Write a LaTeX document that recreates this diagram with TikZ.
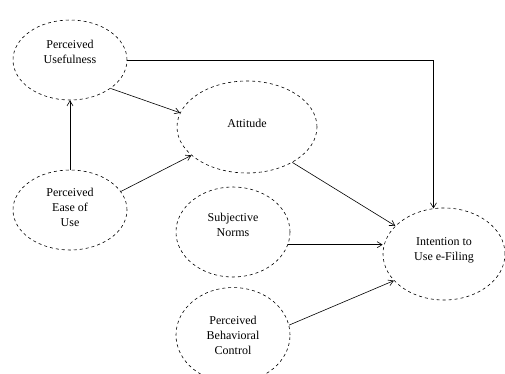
\documentclass[tikz,border=0pt]{standalone}
\usepackage{fontspec}
\setmainfont{Liberation Serif}
\usetikzlibrary{shapes.geometric,arrows.meta}
\begin{document}
\begin{tikzpicture}[x=1pt,y=-1pt,
  var/.style={ellipse,draw,dashed,line width=0.6pt,inner sep=0pt},
  lbl/.style={align=center,font=\fontsize{12}{15}\selectfont},
  arr/.style={-{Straight Barb[length=5pt,width=6pt]},line width=0.6pt}]
\useasboundingbox (0,0) rectangle (505,374);
\node[var,minimum width=114pt,minimum height=80pt] (pu) at (70,60) {};
\node[lbl] (pul) at (70,52) {Perceived\\Usefulness};
\node[var,minimum width=140pt,minimum height=92pt] (att) at (247,127) {};
\node[lbl] (attl) at (247,123) {Attitude};
\node[var,minimum width=114pt,minimum height=80pt] (peou) at (70,210) {};
\node[lbl] (peoul) at (70,207) {Perceived\\Ease of\\Use};
\node[var,minimum width=114pt,minimum height=90pt] (sn) at (233,232) {};
\node[lbl] (snl) at (233,225) {Subjective\\Norms};
\node[var,minimum width=114pt,minimum height=95pt] (pbc) at (233,335) {};
\node[lbl] (pbcl) at (233,335) {Perceived\\Behavioral\\Control};
\node[var,minimum width=122pt,minimum height=92pt] (int) at (444,254) {};
\node[lbl] (intl) at (444,250) {Intention to\\Use e-Filing};
\draw[arr] (pu.east) -| (int.103);
\draw[arr] (pu.-35) -- (att.168);
\draw[arr] (peou.north) -- (pu.south);
\draw[arr] (peou.20) -- (att.207);
\draw[arr] (att.-38) -- (int.150);
\draw[arr] (sn.-13) -- (sn.-13 -| int.west);
\draw[arr] (pbc.10) -- (int.208);
\end{tikzpicture}
\end{document}
